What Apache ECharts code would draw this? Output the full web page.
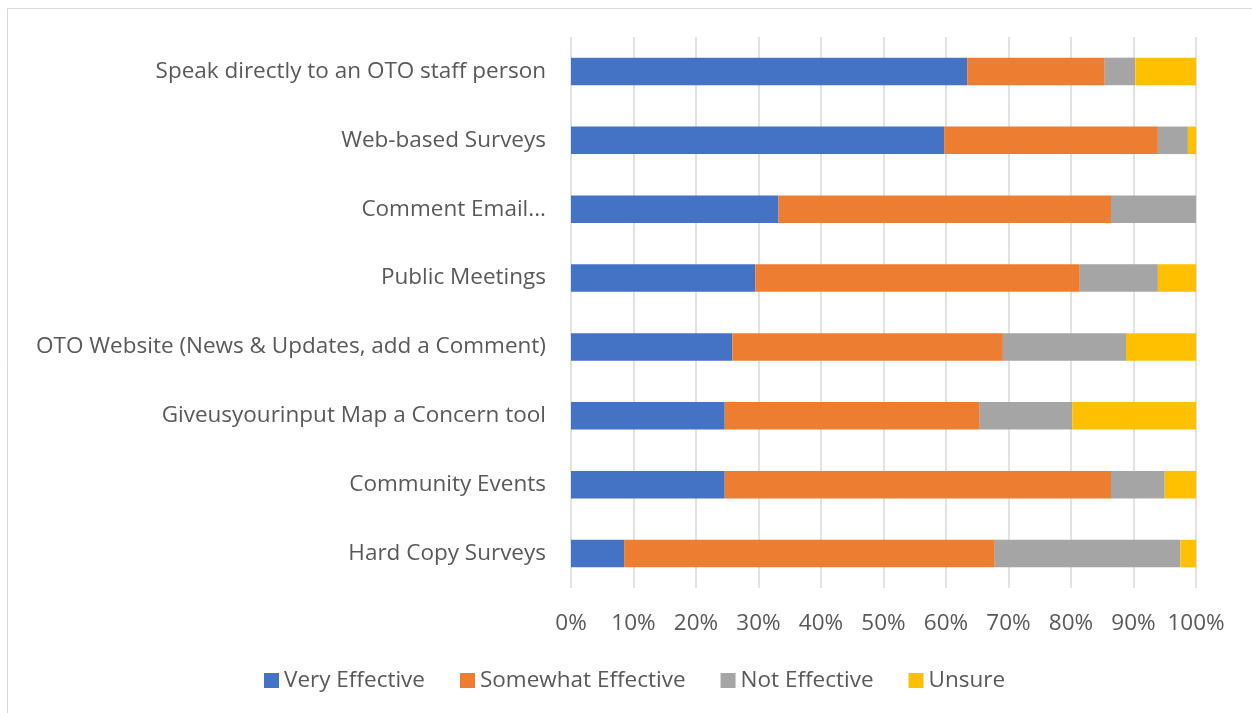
<!DOCTYPE html>
<html>
<head>
<meta charset="utf-8">
<script src="https://cdn.jsdelivr.net/npm/echarts@6/dist/echarts.min.js"></script>
<style>
  html, body { margin: 0; padding: 0; background: #fff; }
  #chart { width: 1252px; height: 713px; }
</style>
</head>
<body>
<div id="chart"></div>
<script>
const categories = [
  "Speak directly to an OTO staff person",
  "Web-based Surveys",
  "Comment Email...",
  "Public Meetings",
  "OTO Website (News & Updates, add a Comment)",
  "Giveusyourinput Map a Concern tool",
  "Community Events",
  "Hard Copy Surveys"
];
const veryEffective     = [63.4, 59.7, 33.2, 29.5, 25.8, 24.6, 24.6, 8.5];
const somewhatEffective = [22.0, 34.2, 53.2, 51.9, 43.3, 40.8, 61.8, 59.3];
const notEffective      = [4.9, 4.8, 13.6, 12.5, 19.7, 14.8, 8.6, 29.7];
const unsure            = [9.7, 1.3, 0, 6.1, 11.2, 19.8, 5.0, 2.5];

const seriesNames = ["Very Effective", "Somewhat Effective", "Not Effective", "Unsure"];
const colors = ["#4472c4", "#ed7d31", "#a5a5a5", "#ffc000"];

const font = "'Open Sans', 'Noto Sans', sans-serif";
const chart = echarts.init(document.getElementById("chart"));

const makeSeries = (name, data) => ({
  name: name,
  type: "bar",
  stack: "total",
  barWidth: "40%",
  data: data,
  emphasis: { disabled: true }
});

chart.setOption({
  animation: false,
  color: colors,
  graphic: [{
    type: "rect",
    shape: { x: 7.5, y: 8.5, width: 1260, height: 720 },
    style: { fill: "none", stroke: "#d9d9d9", lineWidth: 1 },
    silent: true
  }],
  grid: { left: 571, right: 56, top: 37, bottom: 125 },
  legend: {
    data: seriesNames,
    left: 259,
    top: 664,
    itemWidth: 15,
    itemHeight: 15,
    itemGap: 35,
    icon: "rect",
    textStyle: { color: "#595959", fontSize: 22.5, fontFamily: font }
  },
  xAxis: {
    type: "value",
    min: 0,
    max: 100,
    interval: 10,
    axisLine: { show: false },
    axisTick: { show: false },
    splitLine: { lineStyle: { color: "#d9d9d9", width: 1.5 } },
    axisLabel: {
      formatter: "{value}%",
      color: "#595959",
      fontSize: 22.5,
      fontFamily: font,
      margin: 24
    }
  },
  yAxis: {
    type: "category",
    data: categories,
    inverse: true,
    axisLine: { show: false },
    axisTick: { show: false },
    axisLabel: {
      color: "#595959",
      fontSize: 22.5,
      fontFamily: font,
      margin: 25
    }
  },
  series: [
    makeSeries(seriesNames[0], veryEffective),
    makeSeries(seriesNames[1], somewhatEffective),
    makeSeries(seriesNames[2], notEffective),
    makeSeries(seriesNames[3], unsure)
  ]
});
</script>
</body>
</html>
